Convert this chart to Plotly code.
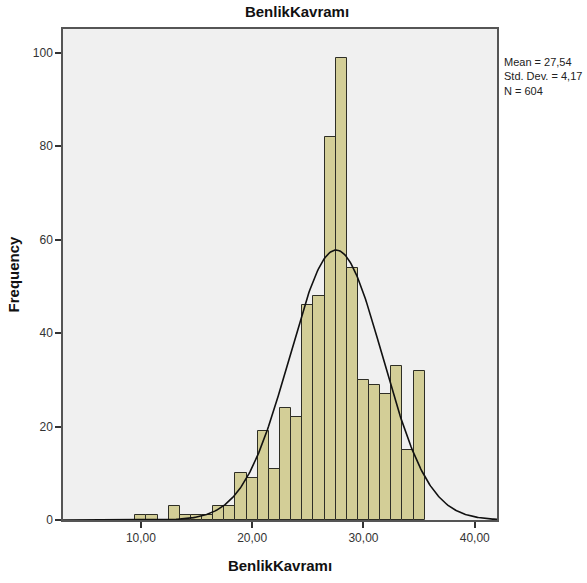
import numpy as np
import plotly.graph_objects as go

# Data
bin_centers = [10, 11, 12, 13, 14, 15, 16, 17, 18, 19, 20, 21, 22, 23, 24, 25, 26, 27, 28, 29, 30, 31, 32, 33, 34, 35]
counts = [1, 1, 0, 3, 1, 1, 1, 3, 3, 10, 9, 19, 11, 24, 22, 46, 48, 82, 99, 54, 30, 29, 27, 33, 15, 32]
mean_val = 27.54
std_val = 4.17
n_val = 604
x_ticks = [10, 20, 30, 40]
x_tick_labels = ["10,00", "20,00", "30,00", "40,00"]
y_ticks = [0, 20, 40, 60, 80, 100]

W, H = 587, 583
L, R, T, B = 63, 90, 29, 63

fig = go.Figure()
fig.add_trace(go.Bar(
    x=bin_centers, y=counts, width=1,
    marker=dict(color="#D3CE97", line=dict(color="#2e2e26", width=1)),
    hoverinfo="x+y",
))
xs = np.linspace(3, 42, 400)
ys = n_val * 1.0 / (std_val * np.sqrt(2 * np.pi)) * np.exp(-0.5 * ((xs - mean_val) / std_val) ** 2)
fig.add_trace(go.Scatter(x=xs, y=ys, mode="lines", line=dict(color="#111111", width=1.6)))

font = "Liberation Sans, Arial, sans-serif"
fig.update_layout(
    width=W, height=H,
    margin=dict(l=L, r=R, t=T, b=B),
    paper_bgcolor="white",
    plot_bgcolor="#F0F0F0",
    showlegend=False,
    bargap=0,
    font=dict(family=font, color="#222222"),
    xaxis=dict(
        range=[3, 42], tickvals=x_ticks, ticktext=x_tick_labels,
        ticks="outside", ticklen=6, tickwidth=1.5, tickcolor="#333333",
        showgrid=False, zeroline=False,
        showline=True, linecolor="#555555", linewidth=1.5, mirror=True,
        tickfont=dict(size=12, color="#333333"),
        title=dict(text="<b>BenlikKavramı</b>", font=dict(size=15, color="#111111"), standoff=16),
    ),
    yaxis=dict(
        range=[0, 105.1], tickvals=y_ticks,
        ticks="outside", ticklen=6, tickwidth=1.5, tickcolor="#333333",
        showgrid=False, zeroline=False,
        showline=True, linecolor="#555555", linewidth=1.5, mirror=True,
        tickfont=dict(size=12, color="#333333"),
        title=dict(text="<b>Frequency</b>", font=dict(size=15, color="#111111"), standoff=10),
    ),
    title=dict(text="<b>BenlikKavramı</b>", font=dict(size=15, color="#111111"),
               x=297 / W, xanchor="center", xref="container", y=1 - 12 / H, yanchor="middle"),
)
fig.add_annotation(
    text="Mean = 27,54<br>Std. Dev. = 4,17<br>N = 604",
    xref="paper", yref="paper",
    x=(502 - L) / (W - L - R), y=1 - (54 - T) / (H - T - B),
    xanchor="left", yanchor="top", align="left", showarrow=False,
    font=dict(size=11, color="#222222", family=font),
)
fig.write_html("out.html")
